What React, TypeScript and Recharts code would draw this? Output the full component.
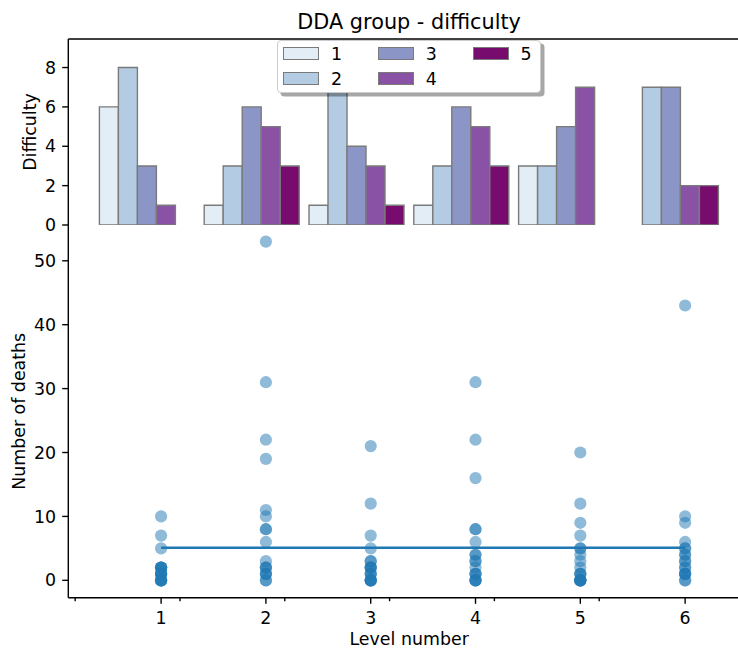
import React from 'react';
import {
  BarChart,
  Bar,
  XAxis,
  YAxis,
  ReferenceLine,
  Legend,
  ComposedChart,
  Scatter,
  Line,
} from 'recharts';

// ---------- data ----------
const levels = [1, 2, 3, 4, 5, 6];
const difficultyNames = ['1', '2', '3', '4', '5'];
// count of players giving each difficulty rating, per level
const diff1 = [6, 1, 1, 1, 3, 0];
const diff2 = [8, 3, 9, 3, 3, 7];
const diff3 = [3, 6, 4, 6, 5, 7];
const diff4 = [1, 5, 3, 5, 7, 2];
const diff5 = [0, 3, 1, 3, 0, 2];
const difficultyTicks = [0, 2, 4, 6, 8];

// deaths per player, per level
const deathsLevel1 = [10, 7, 5, 2, 2, 2, 2, 2, 1, 1, 1, 1, 1, 0, 0, 0, 0, 0];
const deathsLevel2 = [53, 31, 22, 19, 11, 10, 8, 8, 6, 3, 2, 2, 2, 1, 1, 1, 0, 0];
const deathsLevel3 = [21, 12, 7, 5, 3, 3, 2, 2, 2, 2, 1, 1, 1, 0, 0, 0, 0, 0];
const deathsLevel4 = [31, 22, 16, 8, 8, 6, 4, 4, 3, 3, 2, 1, 1, 1, 0, 0, 0, 0];
const deathsLevel5 = [20, 12, 9, 7, 5, 5, 4, 3, 2, 1, 1, 1, 0, 0, 0, 0, 0, 0];
const deathsLevel6 = [43, 10, 9, 6, 5, 5, 4, 4, 3, 3, 2, 2, 1, 1, 1, 1, 0, 0];
const deathTicks = [0, 10, 20, 30, 40, 50];
const levelTicks = [1, 2, 3, 4, 5, 6];
const minorLevelTicks = [0.18, 1.18, 2.18, 3.18, 4.18, 5.18];
const meanLineX = [1, 6];
const meanLineY = [5.1, 5.1];

// ---------- styles ----------
const FONT = 'DejaVu Sans';
const barColors = ['#e2edf5', '#b3cce3', '#8c96c6', '#8a52a5', '#770b6e'];
const barEdge = '#7a7a7a';
const pointColor = '#1f77b4';
const SPINE = 1.39;
const TICK = 6.1;
const XTICK_MARGIN = 7.5;
const tickStyle = { fontSize: 17.4, fill: '#000', fontFamily: FONT };

const diffSeries = [diff1, diff2, diff3, diff4, diff5];
const barData = levels.map((lv, i) => {
  const row: any = { level: lv };
  diffSeries.forEach((s, k) => {
    row['d' + (k + 1)] = s[i];
  });
  return row;
});

const deathsByLevel = [deathsLevel1, deathsLevel2, deathsLevel3, deathsLevel4, deathsLevel5, deathsLevel6];
const scatterData = levels.flatMap((lv, i) => deathsByLevel[i].map((d) => ({ x: lv, y: d })));
const lineData = meanLineX.map((x, i) => ({ x, y: meanLineY[i] }));
const allXTicks = [...minorLevelTicks, ...levelTicks].sort((a, b) => a - b);

const makeYLabel = (text: string, baselineX: number, fallbackCy: number) => (props: any) => {
  const vb = props && props.viewBox;
  const cy = vb && vb.height ? vb.y + vb.height / 2 : fallbackCy;
  return (
    <text
      x={baselineX}
      y={cy}
      transform={`rotate(-90, ${baselineX}, ${cy})`}
      textAnchor="middle"
      fontSize={17.4}
      fontFamily={FONT}
      fill="#000"
    >
      {text}
    </text>
  );
};

const XTick = (props: any) => {
  const { x, y, payload } = props;
  const v = payload.value;
  const major = Number.isInteger(v);
  const axisY = y - TICK - XTICK_MARGIN;
  return (
    <g>
      <line x1={x} x2={x} y1={axisY} y2={axisY + (major ? TICK : 3.5)} stroke="#000" strokeWidth={SPINE} />
      {major && (
        <text x={x} y={y} dy="0.71em" textAnchor="middle" fontSize={17.4} fontFamily={FONT} fill="#000">
          {v}
        </text>
      )}
    </g>
  );
};

const renderDot = (props: any) => (
  <circle cx={props.cx} cy={props.cy} r={6.1} fill={pointColor} fillOpacity={0.5} />
);

const LegendBox = () => (
  <div
    style={{
      position: 'relative',
      width: 264,
      height: 53.3,
      background: '#fff',
      border: '1px solid #cccccc',
      borderRadius: 4,
      boxShadow: '3.5px 3.5px 0 rgba(0,0,0,0.35)',
      boxSizing: 'border-box',
      fontFamily: FONT,
    }}
  >
    {difficultyNames.map((name, i) => {
      const col = Math.floor(i / 2);
      const row = i % 2;
      const left = 5.6 + col * 94.7;
      const cy = (row === 0 ? 13.3 : 38.3) - 1;
      return (
        <React.Fragment key={name}>
          <div
            style={{
              position: 'absolute',
              left,
              top: cy - 6.3,
              width: 36,
              height: 12.6,
              background: barColors[i],
              border: `1.4px solid ${barEdge}`,
              boxSizing: 'border-box',
            }}
          />
          <div
            style={{
              position: 'absolute',
              left: left + 47.7,
              top: cy - 9.7,
              lineHeight: '20px',
              height: 20,
              fontSize: 17.4,
              color: '#000',
              whiteSpace: 'nowrap',
            }}
          >
            {name}
          </div>
        </React.Fragment>
      );
    })}
  </div>
);

export default function App() {
  return (
    <div
      style={{
        position: 'absolute',
        left: 0,
        top: 0,
        width: 738,
        height: 649,
        overflow: 'hidden',
        background: '#fff',
        fontFamily: FONT,
      }}
    >
      <div style={{ position: 'absolute', left: 0, top: 0 }}>
        <ComposedChart width={760} height={649} margin={{ top: 225, right: 10, bottom: 0, left: 0 }}>
          <XAxis
            type="number"
            dataKey="x"
            domain={[0.1145, 6.619]}
            allowDataOverflow
            ticks={allXTicks}
            interval={0}
            height={51.3}
            tickSize={TICK}
            tickMargin={XTICK_MARGIN}
            tickLine={false}
            tick={<XTick />}
            axisLine={{ stroke: '#000', strokeWidth: SPINE }}
            label={{
              value: 'Level number',
              position: 'insideBottom',
              offset: 4.5,
              fontSize: 17.4,
              fill: '#000',
              fontFamily: FONT,
            }}
          />
          <YAxis
            type="number"
            dataKey="y"
            domain={[-2.72, 55.6]}
            allowDataOverflow
            ticks={deathTicks}
            interval={0}
            width={68.3}
            tickSize={TICK}
            tickMargin={6.1}
            tick={tickStyle}
            tickLine={{ stroke: '#000', strokeWidth: SPINE }}
            axisLine={{ stroke: '#000', strokeWidth: SPINE }}
            label={makeYLabel('Number of deaths', 25, 411.35)}
          />
          <Scatter data={scatterData} dataKey="y" shape={renderDot} isAnimationActive={false} />
          <Line
            data={lineData}
            dataKey="y"
            type="linear"
            stroke={pointColor}
            strokeWidth={2.6}
            dot={false}
            activeDot={false}
            isAnimationActive={false}
          />
        </ComposedChart>
      </div>
      <div style={{ position: 'absolute', left: 0, top: 0 }}>
        <BarChart
          width={760}
          height={240}
          data={barData}
          margin={{ top: 39, right: 10, bottom: 15, left: 0 }}
          barGap={0}
          barCategoryGap={4.9}
        >
          <XAxis
            dataKey="level"
            type="category"
            height={0}
            tick={false}
            tickLine={false}
            axisLine={{ stroke: '#000', strokeWidth: SPINE }}
            padding={{ left: 26.1, right: 26.8 }}
          />
          <YAxis
            type="number"
            domain={[0, 9.45]}
            allowDataOverflow
            ticks={difficultyTicks}
            interval={0}
            width={68.3}
            tickSize={TICK}
            tickMargin={6.1}
            tick={tickStyle}
            tickLine={{ stroke: '#000', strokeWidth: SPINE }}
            axisLine={{ stroke: '#000', strokeWidth: SPINE }}
            label={makeYLabel('Difficulty', 35.5, 132)}
          />
          {difficultyNames.map((name, k) => (
            <Bar
              key={name}
              dataKey={'d' + (k + 1)}
              name={name}
              fill={barColors[k]}
              stroke={barEdge}
              strokeWidth={1.4}
              barSize={19}
              isAnimationActive={false}
            />
          ))}
          <ReferenceLine
            y={9.45}
            stroke="#000"
            strokeWidth={SPINE}
            ifOverflow="visible"
            label={{
              value: 'DDA group - difficulty',
              position: 'top',
              offset: 10.4,
              fontSize: 20.8,
              fill: '#000',
              fontFamily: FONT,
            }}
          />
          <Legend
            layout="horizontal"
            verticalAlign="middle"
            align="center"
            content={<LegendBox />}
            wrapperStyle={{ left: 276.7, top: 40, width: 264, height: 54 }}
          />
        </BarChart>
      </div>
    </div>
  );
}
